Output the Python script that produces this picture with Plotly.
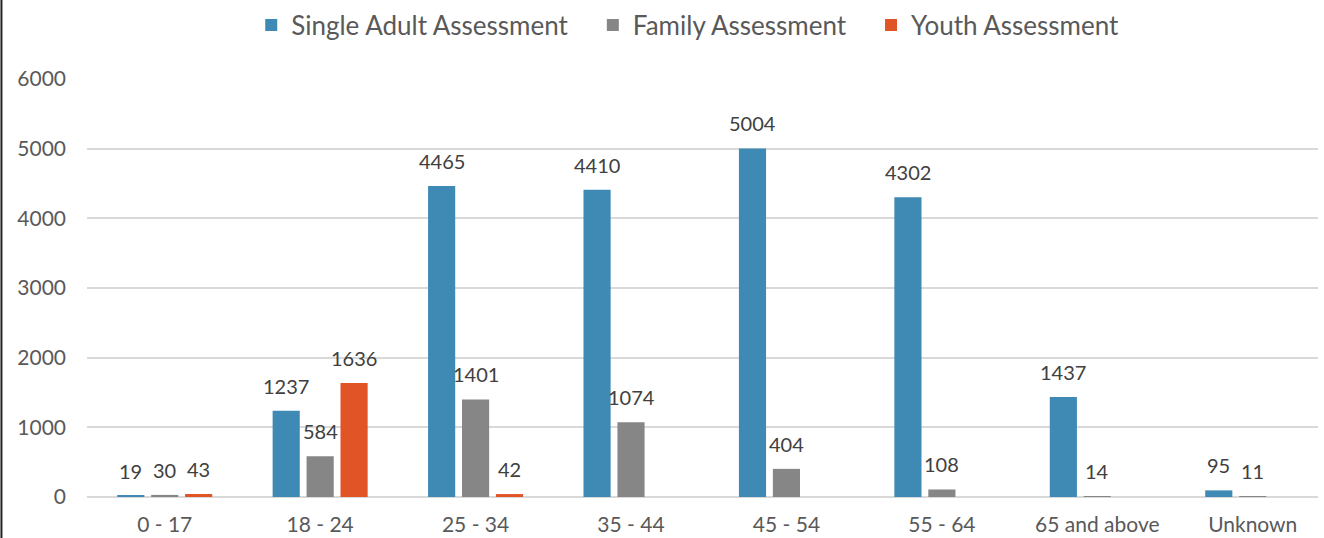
import plotly.graph_objects as go

categories = ["0 - 17", "18 - 24", "25 - 34", "35 - 44", "45 - 54", "55 - 64", "65 and above", "Unknown"]
single_adult = [19, 1237, 4465, 4410, 5004, 4302, 1437, 95]
family = [30, 584, 1401, 1074, 404, 108, 14, 11]
youth = [43, 1636, 42, 0, 0, 0, 0, 0]
series_names = ["Single Adult Assessment", "Family Assessment", "Youth Assessment"]
y_ticks = [0, 1000, 2000, 3000, 4000, 5000, 6000]

colors = ["#3f8ab5", "#868686", "#e05426"]
FONT = "Lato"
TXT = "#404040"
PAD = "\u00a0" * 3  # extra spacing between legend entries

fig = go.Figure()
all_series = [single_adult, family, youth]
for i, (name, vals, col) in enumerate(zip(series_names, all_series, colors)):
    fig.add_trace(go.Bar(x=categories, y=vals, name=name + (PAD if i < 2 else ""),
                         marker_color=col, marker_line_width=0))

# data labels (skip zero values), placed above each bar
shifts = [-34, 0, 34]
for vals, dx in zip(all_series, shifts):
    for c, v in zip(categories, vals):
        if v:
            fig.add_annotation(x=c, y=v, text=str(v), showarrow=False,
                               xref="x", yref="y", xshift=dx, yshift=11,
                               yanchor="bottom",
                               font=dict(family=FONT, size=20, color=TXT))

fig.update_layout(
    width=1324, height=538,
    margin=dict(l=87, r=6, t=79, b=41, autoexpand=False),
    paper_bgcolor="white", plot_bgcolor="white",
    barmode="group", bargap=0.345, bargroupgap=0.2,
    font=dict(family=FONT, color=TXT),
    showlegend=True,
    legend=dict(orientation="h", x=0.488, xanchor="center", y=1.129, yanchor="middle",
                font=dict(family=FONT, size=26, color="#595959"),
                traceorder="normal"),
)
fig.update_xaxes(range=[-0.5, 7.42], showgrid=False, showline=False, zeroline=False,
                 tickfont=dict(family=FONT, size=21, color="#595959"),
                 ticks="outside", ticklen=9, tickcolor="white")
fig.update_yaxes(range=[0, 6000], tickvals=y_ticks, showgrid=True, gridcolor="#d9d9d9",
                 gridwidth=2, zeroline=True, zerolinecolor="#d9d9d9", zerolinewidth=2,
                 showline=False, ticklabelstandoff=20,
                 tickfont=dict(family=FONT, size=21, color="#595959"))

# left border line of the original image
fig.add_shape(type="line", xref="paper", yref="paper", x0=-0.0695, x1=-0.0695,
              y0=-0.2, y1=1.3, line=dict(color="#222222", width=2))

fig.write_html("out.html", config={"displayModeBar": False},
               post_script="document.body.style.margin='0';document.body.style.overflow='hidden';")
